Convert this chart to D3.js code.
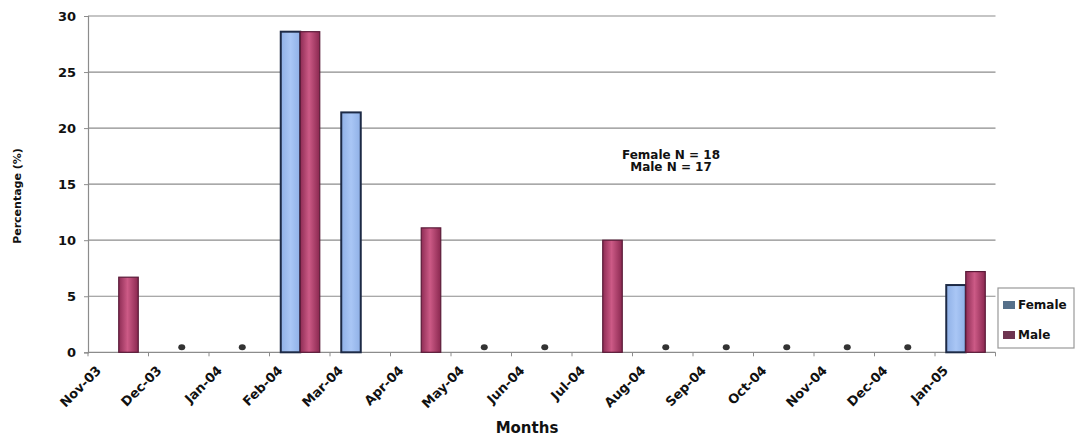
<!DOCTYPE html>
<html>
<head>
<meta charset="utf-8">
<script src="https://cdn.jsdelivr.net/npm/d3@7"></script>
<style>
  html, body { margin: 0; padding: 0; background: #fff; }
  svg { display: block; font-family: "DejaVu Sans", Arial, sans-serif; font-weight: bold; }
</style>
</head>
<body>
<svg id="chart" width="1075" height="439"></svg>
<script>
const months = ["Nov-03","Dec-03","Jan-04","Feb-04","Mar-04","Apr-04","May-04","Jun-04","Jul-04","Aug-04","Sep-04","Oct-04","Nov-04","Dec-04","Jan-05"];
const female = [0, 0, 0, 28.6, 21.4, 0, 0, 0, 0, 0, 0, 0, 0, 0, 6.0];
const male   = [6.7, 0, 0, 28.6, 0, 11.1, 0, 0, 10.0, 0, 0, 0, 0, 0, 7.2];
const seriesNames = ["Female", "Male"];
const yTicks = [0, 5, 10, 15, 20, 25, 30];
const annotation = ["Female N = 18", "Male N = 17"];

const svg = d3.select("#chart");
const plotLeft = 88, plotRight = 995.5, plotTop = 16, plotBottom = 352.3;

const x0 = d3.scaleBand().domain(months).range([plotLeft, plotRight]).paddingInner(0).paddingOuter(0);
const bw = x0.bandwidth();
const x1 = d3.scaleBand().domain(seriesNames).range([bw / 2 - 19, bw / 2 + 20]).padding(0);
const y = d3.scaleLinear().domain([0, 30]).range([plotBottom, plotTop]);

const defs = svg.append("defs");
const gM = defs.append("linearGradient").attr("id", "gMale").attr("x1", "0").attr("x2", "1").attr("y1", "0").attr("y2", "0");
gM.append("stop").attr("offset", "0%").attr("stop-color", "#8e2d55");
gM.append("stop").attr("offset", "45%").attr("stop-color", "#cc5a86");
gM.append("stop").attr("offset", "100%").attr("stop-color", "#8a2850");
const gF = defs.append("linearGradient").attr("id", "gFemale").attr("x1", "0").attr("x2", "1").attr("y1", "0").attr("y2", "0");
gF.append("stop").attr("offset", "0%").attr("stop-color", "#8fb0e6");
gF.append("stop").attr("offset", "50%").attr("stop-color", "#a9c6f5");
gF.append("stop").attr("offset", "100%").attr("stop-color", "#8fb0e6");

// gridlines
svg.append("g").selectAll("line").data(yTicks.filter(d => d > 0)).join("line")
  .attr("x1", plotLeft).attr("x2", plotRight)
  .attr("y1", d => y(d)).attr("y2", d => y(d))
  .attr("stroke", "#8c8c8c").attr("stroke-width", 1.2);

// y axis
const yAxis = d3.axisLeft(y).tickValues(yTicks).tickSize(4).tickPadding(8);
const gy = svg.append("g").attr("transform", `translate(${plotLeft},0)`).call(yAxis);
gy.select(".domain").attr("stroke", "#8c8c8c").attr("stroke-width", 1.2);
gy.selectAll(".tick line").attr("stroke", "#8c8c8c");
gy.selectAll(".tick text").attr("font-size", 13).attr("font-family", "DejaVu Sans").attr("font-weight", "bold").attr("fill", "#111");

// x axis line + ticks
const boundaries = months.map(m => x0(m)).concat([plotRight]);
svg.append("line").attr("x1", plotLeft).attr("x2", plotRight).attr("y1", plotBottom).attr("y2", plotBottom)
  .attr("stroke", "#8c8c8c").attr("stroke-width", 1.2);
svg.append("g").selectAll("line").data(boundaries).join("line")
  .attr("x1", d => d).attr("x2", d => d).attr("y1", plotBottom).attr("y2", plotBottom + 4)
  .attr("stroke", "#8c8c8c");

// x labels
svg.append("g").selectAll("text").data(months).join("text")
  .attr("transform", d => `translate(${x0(d) + 14},${plotBottom + 19}) rotate(-45)`)
  .attr("text-anchor", "end")
  .attr("font-size", 13).attr("fill", "#111")
  .text(d => d);

// bars
const rows = months.map((m, i) => ({ m, vals: [ { k: "Female", v: female[i] }, { k: "Male", v: male[i] } ] }));
const groups = svg.append("g").selectAll("g").data(rows).join("g")
  .attr("transform", d => `translate(${x0(d.m)},0)`);
groups.selectAll("rect").data(d => d.vals.filter(e => e.v > 0)).join("rect")
  .attr("x", d => x1(d.k))
  .attr("width", x1.bandwidth())
  .attr("y", d => y(d.v))
  .attr("height", d => y(0) - y(d.v))
  .attr("fill", d => d.k === "Female" ? "url(#gFemale)" : "url(#gMale)")
  .attr("stroke", d => d.k === "Female" ? "#1d2a45" : "#5a1a38")
  .attr("stroke-width", d => d.k === "Female" ? 2 : 1.2);

// zero markers for months where both series are 0
svg.append("g").selectAll("ellipse").data(rows.filter(r => r.vals.every(e => e.v === 0))).join("ellipse")
  .attr("cx", d => x0(d.m) + bw / 2 + 3)
  .attr("cy", plotBottom - 5)
  .attr("rx", 3.5).attr("ry", 3)
  .attr("fill", "#333");

// axis titles
svg.append("text").attr("x", 527).attr("y", 433).attr("text-anchor", "middle")
  .attr("font-size", 15).attr("fill", "#111").text("Months");
svg.append("text").attr("transform", "translate(21,196) rotate(-90)").attr("text-anchor", "middle")
  .attr("font-size", 11).attr("fill", "#111").text("Percentage (%)");

// annotation
svg.append("g").selectAll("text").data(annotation).join("text")
  .attr("x", 671).attr("y", (d, i) => 159 + i * 12)
  .attr("text-anchor", "middle").attr("font-size", 12).attr("fill", "#111")
  .text(d => d);

// legend
const lg = svg.append("g").attr("transform", "translate(998,288)");
lg.append("rect").attr("x", 0).attr("y", 0).attr("width", 76).attr("height", 60)
  .attr("fill", "#fff").attr("stroke", "#999").attr("stroke-width", 1.2);
const swatch = { Female: "#56708a", Male: "#6e3450" };
const li = lg.selectAll("g.item").data(seriesNames).join("g").attr("class", "item")
  .attr("transform", (d, i) => `translate(5,${13 + i * 30})`);
li.append("rect").attr("x", 0).attr("y", 0).attr("width", 12).attr("height", 8).attr("fill", d => swatch[d]);
li.append("text").attr("x", 15).attr("y", 8).attr("font-size", 12).attr("fill", "#111").text(d => d);
</script>
</body>
</html>
